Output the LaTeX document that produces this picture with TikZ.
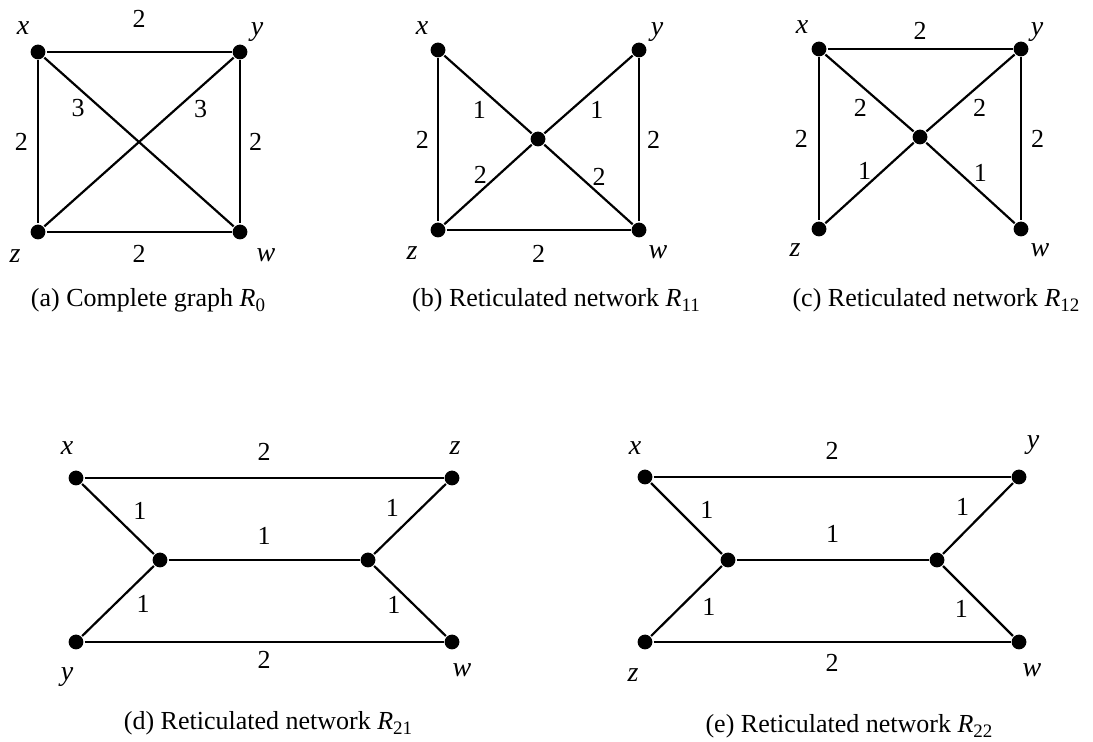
\documentclass[tikz,border=0pt]{standalone}
\usepackage{fontspec}
\setmainfont{Liberation Serif}
\usetikzlibrary{positioning}
\newcommand{\netR}[1]{\textit{R}\raisebox{-0.45ex}{\fontsize{9.5pt}{10pt}\selectfont #1}}

\begin{document}
\begin{tikzpicture}[x=0.5pt, y=-0.5pt, line width=1.1pt,
  vert/.style={circle, fill, inner sep=0pt, minimum size=7.4pt},
  vname/.style={inner sep=0pt, font=\fontsize{14pt}{16pt}\selectfont\itshape},
  wt/.style={inner sep=0pt, font=\fontsize{13pt}{15pt}\selectfont},
  capt/.style={inner sep=0pt, font=\fontsize{13pt}{15pt}\selectfont}]
\useasboundingbox (0,0) rectangle (1093,742);

% (a)
\node[vert] (ax) at (38,52) {};
\node[vert] (ay) at (240,52) {};
\node[vert] (az) at (38,232) {};
\node[vert] (aw) at (240,232) {};
\node[vname] (axl) at (23,28) {x};
\node[vname] (ayl) at (257,32) {y};
\node[vname] (azl) at (15,256) {z};
\node[vname] (awl) at (266,255) {w};
\draw (ax) -- node[wt, above=11.5pt] {2} (ay);
\draw (ax) -- node[wt, left=4.5pt] {2} (az);
\draw (ay) -- node[wt, right=4pt] {2} (aw);
\draw (az) -- node[wt, below=6pt] {2} (aw);
\draw (ax) -- node[wt, pos=0.23, below left=1.5pt] {3} (aw);
\draw (ay) -- node[wt, pos=0.23, below right=2pt] {3} (az);
\node[capt] (acap) at (148,300) {(a) Complete graph \netR{0}};

% (b)
\node[vert] (bx) at (438,50) {};
\node[vert] (by) at (639,50) {};
\node[vert] (bc) at (538,139) {};
\node[vert] (bz) at (438,230) {};
\node[vert] (bw) at (639,230) {};
\node[vname] (bxl) at (422,28) {x};
\node[vname] (byl) at (657,32) {y};
\node[vname] (bzl) at (412,253) {z};
\node[vname] (bwl) at (658,252) {w};
\draw (bx) -- node[wt, left=4pt] {2} (bz);
\draw (by) -- node[wt, right=3.5pt] {2} (bw);
\draw (bz) -- node[wt, below=7pt] {2} (bw);
\draw (bx) -- node[wt, pos=0.53, below left=2.5pt] {1} (bc);
\draw (by) -- node[wt, pos=0.53, below right=2.5pt] {1} (bc);
\draw (bc) -- node[wt, pos=0.5, above left=0pt] {2} (bz);
\draw (bc) -- node[wt, pos=0.53, above right=0.3pt] {2} (bw);
\node[capt] (bcap) at (556,300) {(b) Reticulated network \netR{11}};

% (c)
\node[vert] (cx) at (819,49) {};
\node[vert] (cy) at (1021,49) {};
\node[vert] (cc) at (920,137) {};
\node[vert] (cz) at (819,229) {};
\node[vert] (cw) at (1021,229) {};
\node[vname] (cxl) at (802,27) {x};
\node[vname] (cyl) at (1037,32) {y};
\node[vname] (czl) at (795,250) {z};
\node[vname] (cwl) at (1040,250) {w};
\draw (cx) -- node[wt, above=4pt] {2} (cy);
\draw (cx) -- node[wt, left=5pt] {2} (cz);
\draw (cy) -- node[wt, right=4.5pt] {2} (cw);
\draw (cx) -- node[wt, pos=0.52, below left=2.3pt] {2} (cc);
\draw (cy) -- node[wt, pos=0.52, below right=2.3pt] {2} (cc);
\draw (cc) -- node[wt, pos=0.47, above left=0pt] {1} (cz);
\draw (cc) -- node[wt, pos=0.51, above right=1pt] {1} (cw);
\node[capt] (ccap) at (936,300) {(c) Reticulated network \netR{12}};

% (d)
\node[vert] (dx) at (76,478) {};
\node[vert] (dz) at (452,478) {};
\node[vert] (dl) at (160,560) {};
\node[vert] (dr) at (368,560) {};
\node[vert] (dy) at (76,642) {};
\node[vert] (dw) at (452,642) {};
\node[vname] (dxl) at (67,448) {x};
\node[vname] (dzl) at (455,448) {z};
\node[vname] (dyl) at (67,677) {y};
\node[vname] (dwl) at (462,670) {w};
\draw (dx) -- node[wt, above=8pt] {2} (dz);
\draw (dl) -- node[wt, above=7pt] {1} (dr);
\draw (dy) -- node[wt, below=4.3pt] {2} (dw);
\draw (dx) -- node[wt, pos=0.61, above right=4.5pt] {1} (dl);
\draw (dz) -- node[wt, pos=0.56, above left=4pt] {1} (dr);
\draw (dl) -- node[wt, pos=0.33, below right=3.7pt] {1} (dy);
\draw (dr) -- node[wt, pos=0.4, below left=1pt] {1} (dw);
\node[capt] (dcap) at (268,723) {(d) Reticulated network \netR{21}};

% (e)
\node[vert] (ex) at (645,477) {};
\node[vert] (ey) at (1019,477) {};
\node[vert] (el) at (728,560) {};
\node[vert] (er) at (937,560) {};
\node[vert] (ez) at (645,642) {};
\node[vert] (ew) at (1019,642) {};
\node[vname] (exl) at (635,448) {x};
\node[vname] (eyl) at (1033,445) {y};
\node[vname] (ezl) at (633,675) {z};
\node[vname] (ewl) at (1032,670) {w};
\draw (ex) -- node[wt, above=8pt] {2} (ey);
\draw (el) -- node[wt, above=8pt] {1} (er);
\draw (ez) -- node[wt, below=5.8pt] {2} (ew);
\draw (ex) -- node[wt, pos=0.6, above right=4pt] {1} (el);
\draw (ey) -- node[wt, pos=0.54, above left=3.5pt] {1} (er);
\draw (el) -- node[wt, pos=0.37, below right=4pt] {1} (ez);
\draw (er) -- node[wt, pos=0.42, below left=2.5pt] {1} (ew);
\node[capt] (ecap) at (849,726) {(e) Reticulated network \netR{22}};
\end{tikzpicture}
\end{document}
